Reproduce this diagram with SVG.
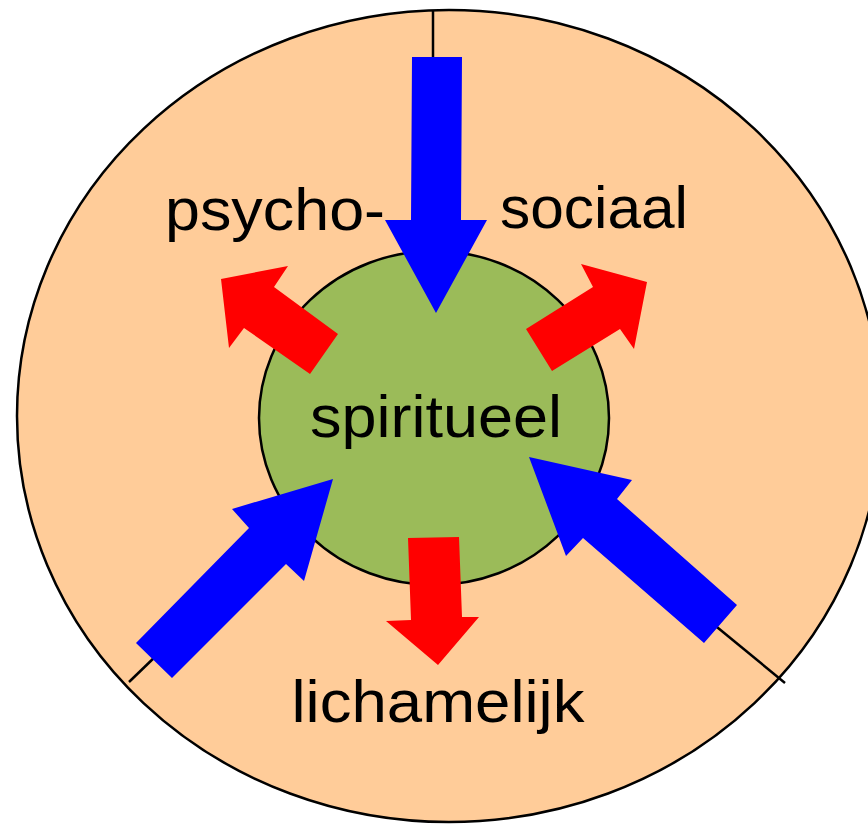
<svg xmlns="http://www.w3.org/2000/svg" width="868" height="825" viewBox="0 0 868 825">
<style>
.outline{stroke:#000;stroke-width:2.5}
.blue{fill:#0000FF}
.red{fill:#FF0000}
.lbl{font-family:"Liberation Sans",Arial,sans-serif;font-size:60px;fill:#000;text-anchor:middle}
.div{stroke:#000;stroke-width:2.5;fill:none}
</style>
<rect width="868" height="825" fill="#fff"/>
<g id="outer">
<ellipse cx="449" cy="416" rx="432" ry="406" fill="#FFCC99" class="outline"/>
</g>
<g id="dividers">
<line x1="433" y1="10" x2="433" y2="60" class="div"/>
<line x1="129" y1="682" x2="158" y2="654" class="div"/>
<line x1="712" y1="623" x2="785" y2="683" class="div"/>
</g>
<g id="inner">
<ellipse cx="434" cy="418" rx="175" ry="167" fill="#9BBB59" class="outline"/>
</g>
<g id="connectors">
<polygon class="blue" points="412,57 462,57 461,220 487,220 436,313 385,220 411,220"/>
<polygon class="blue" points="136,643 249,528 232,509 333,479 304,581 286,564 172,678"/>
<polygon class="blue" points="737,605 617,499 632,480 529,457 566,556 583,538 704,643"/>
<polygon class="red" points="338,334 274,287 288,266 221,279 229,348 244,328 310,374"/>
<polygon class="red" points="526,329 593,287 581,264 647,282 634,349 620,329 552,371"/>
<polygon class="red" points="408,538 459,537 462,617 479,617 438,665 386,621 411,620"/>
</g>
<g id="label-psycho"><text class="lbl" x="275" y="230" textLength="220" lengthAdjust="spacingAndGlyphs">psycho-</text></g>
<g id="label-sociaal"><text class="lbl" x="594" y="228" textLength="188" lengthAdjust="spacingAndGlyphs">sociaal</text></g>
<g id="label-spiritueel"><text class="lbl" x="436" y="437" textLength="252" lengthAdjust="spacingAndGlyphs">spiritueel</text></g>
<g id="label-lichamelijk"><text class="lbl" x="438" y="722" textLength="293" lengthAdjust="spacingAndGlyphs">lichamelijk</text></g>
</svg>
